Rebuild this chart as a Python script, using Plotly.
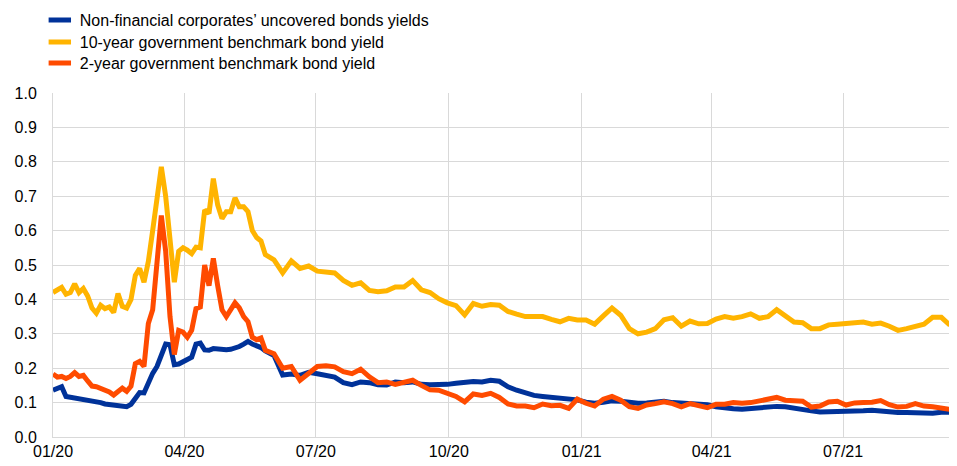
"""
Bond yields chart: NFC uncovered bonds vs government benchmark yields.
"""

import pandas as pd
import plotly.graph_objs as go

# observation dates: every 3 days through May 2020, then every 6 days
dates_early = pd.date_range('2020-01-01', periods=50, freq='3D')
dates_late = pd.date_range('2020-06-02', periods=79, freq='6D')
dates = list(dates_early) + list(dates_late)

nfc_yield = [
    # Jan - May 2020
    0.136, 0.143, 0.146, 0.118, 0.116, 0.115, 0.113, 0.109, 0.106, 0.105,
    0.104, 0.100, 0.096, 0.094, 0.092, 0.092, 0.091, 0.088, 0.095, 0.115,
    0.129, 0.128, 0.160, 0.185, 0.205, 0.240, 0.270, 0.268, 0.210, 0.212,
    0.218, 0.223, 0.232, 0.270, 0.273, 0.253, 0.252, 0.257, 0.256, 0.252,
    0.254, 0.255, 0.258, 0.263, 0.270, 0.278, 0.270, 0.264, 0.260, 0.250,
    # Jun 2020 - Sep 2021
    0.237, 0.180, 0.183, 0.179, 0.188, 0.184, 0.178, 0.174, 0.158, 0.152,
    0.160, 0.158, 0.152, 0.151, 0.160, 0.158, 0.160, 0.153, 0.152, 0.152,
    0.153, 0.156, 0.160, 0.161, 0.160, 0.165, 0.162, 0.146, 0.136, 0.128,
    0.121, 0.118, 0.115, 0.112, 0.110, 0.108, 0.101, 0.098, 0.101, 0.105,
    0.104, 0.100, 0.098, 0.099, 0.102, 0.104, 0.100, 0.098, 0.097, 0.097,
    0.094, 0.088, 0.084, 0.082, 0.081, 0.083, 0.087, 0.089, 0.089, 0.088,
    0.083, 0.079, 0.076, 0.073, 0.073, 0.075, 0.073, 0.074, 0.076, 0.078,
    0.075, 0.073, 0.071, 0.071, 0.070, 0.068, 0.069, 0.072, 0.072,
]

gov_10y = [
    0.420, 0.426, 0.435, 0.415, 0.420, 0.445, 0.420, 0.432, 0.410, 0.375,
    0.360, 0.383, 0.373, 0.378, 0.362, 0.417, 0.380, 0.375, 0.400, 0.470,
    0.490, 0.450, 0.510, 0.600, 0.695, 0.785, 0.700, 0.560, 0.450, 0.540,
    0.550, 0.543, 0.533, 0.552, 0.550, 0.660, 0.650, 0.751, 0.675, 0.635,
    0.655, 0.655, 0.695, 0.669, 0.669, 0.655, 0.600, 0.580, 0.570, 0.530,
    0.515, 0.477, 0.512, 0.490, 0.497, 0.482, 0.478, 0.477, 0.455, 0.441,
    0.448, 0.426, 0.422, 0.425, 0.436, 0.436, 0.455, 0.428, 0.420, 0.402,
    0.390, 0.382, 0.355, 0.388, 0.380, 0.385, 0.383, 0.365, 0.357, 0.350,
    0.350, 0.350, 0.342, 0.335, 0.345, 0.340, 0.340, 0.328, 0.352, 0.375,
    0.354, 0.315, 0.300, 0.305, 0.315, 0.341, 0.347, 0.322, 0.337, 0.329,
    0.330, 0.343, 0.350, 0.345, 0.350, 0.358, 0.345, 0.350, 0.370, 0.352,
    0.334, 0.332, 0.315, 0.315, 0.326, 0.328, 0.330, 0.335, 0.334, 0.328,
    0.331, 0.322, 0.310, 0.315, 0.322, 0.328, 0.348, 0.348, 0.325,
]

gov_2y = [
    0.183, 0.174, 0.176, 0.170, 0.176, 0.187, 0.176, 0.179, 0.163, 0.148,
    0.146, 0.142, 0.135, 0.131, 0.122, 0.134, 0.142, 0.133, 0.148, 0.213,
    0.220, 0.205, 0.330, 0.370, 0.495, 0.644, 0.540, 0.350, 0.240, 0.310,
    0.305, 0.290, 0.310, 0.373, 0.378, 0.500, 0.440, 0.519, 0.440, 0.370,
    0.350, 0.368, 0.390, 0.375, 0.350, 0.335, 0.290, 0.283, 0.288, 0.252,
    0.242, 0.200, 0.205, 0.165, 0.184, 0.205, 0.207, 0.204, 0.190, 0.184,
    0.197, 0.175, 0.158, 0.160, 0.153, 0.160, 0.165, 0.150, 0.137, 0.136,
    0.128, 0.118, 0.102, 0.125, 0.121, 0.127, 0.115, 0.096, 0.090, 0.090,
    0.085, 0.096, 0.091, 0.092, 0.083, 0.110, 0.098, 0.090, 0.110, 0.118,
    0.107, 0.088, 0.083, 0.093, 0.097, 0.102, 0.097, 0.088, 0.097, 0.090,
    0.085, 0.095, 0.095, 0.100, 0.098, 0.100, 0.105, 0.108, 0.115, 0.107,
    0.106, 0.104, 0.087, 0.090, 0.102, 0.104, 0.093, 0.099, 0.100, 0.101,
    0.106, 0.094, 0.087, 0.089, 0.097, 0.090, 0.088, 0.084, 0.080,
]

series = [
    ("Non-financial corporates’ uncovered bonds yields", nfc_yield, '#003299'),
    ("10-year government benchmark bond yield", gov_10y, '#FFB400'),
    ("2-year government benchmark bond yield", gov_2y, '#FF4B00'),
]

fig = go.Figure()
for name, values, colour in series:
    fig.add_trace(go.Scatter(x=dates, y=values, mode='lines', name=name,
                             line=dict(color=colour, width=5),
                             showlegend=False, hoverinfo='skip'))

# legend entries drawn as short thick dashes, one legend box per row so the
# row spacing can match the original
legend_ids = ['legend', 'legend2', 'legend3']
legend_rows = [1.2122, 1.1483, 1.0872]
for (name, values, colour), lid in zip(series, legend_ids):
    fig.add_trace(go.Scatter(x=[None], y=[None], mode='markers', name=name,
                             legend=lid,
                             marker=dict(symbol='line-ew', size=16, color=colour,
                                         line=dict(color=colour, width=5))))

legend_style = dict(x=-0.0147, xanchor='left', yanchor='middle',
                    font=dict(size=16), itemwidth=30, bgcolor='rgba(0,0,0,0)')

grid = '#d9d9d9'
fig.update_layout(
    # page body adds an 8px offset, so the figure is sized to fit the window
    width=949, height=458,
    margin=dict(l=44.5, r=7, t=85, b=29, autoexpand=False),
    paper_bgcolor='white', plot_bgcolor='white',
    font=dict(family='Liberation Sans, Arial, sans-serif', size=16, color='#000000'),
    legend=dict(y=legend_rows[0], **legend_style),
    legend2=dict(y=legend_rows[1], **legend_style),
    legend3=dict(y=legend_rows[2], **legend_style),
    hovermode=False,
)
fig.update_xaxes(type='date', range=[dates[0], dates[-1]],
                 tick0='2020-01-01', dtick='M3', tickformat='%m/%y',
                 showgrid=True, gridcolor=grid, gridwidth=1,
                 showline=True, linecolor=grid, linewidth=1,
                 zeroline=False, ticks='', fixedrange=True)
fig.update_yaxes(range=[0, 1.0], dtick=0.1, tickformat='.1f',
                 showgrid=True, gridcolor=grid, gridwidth=1,
                 showline=True, linecolor=grid, linewidth=1,
                 zeroline=False, ticks='outside', ticklen=12,
                 tickcolor='rgba(0,0,0,0)', fixedrange=True)

fig.write_html("out.html")
